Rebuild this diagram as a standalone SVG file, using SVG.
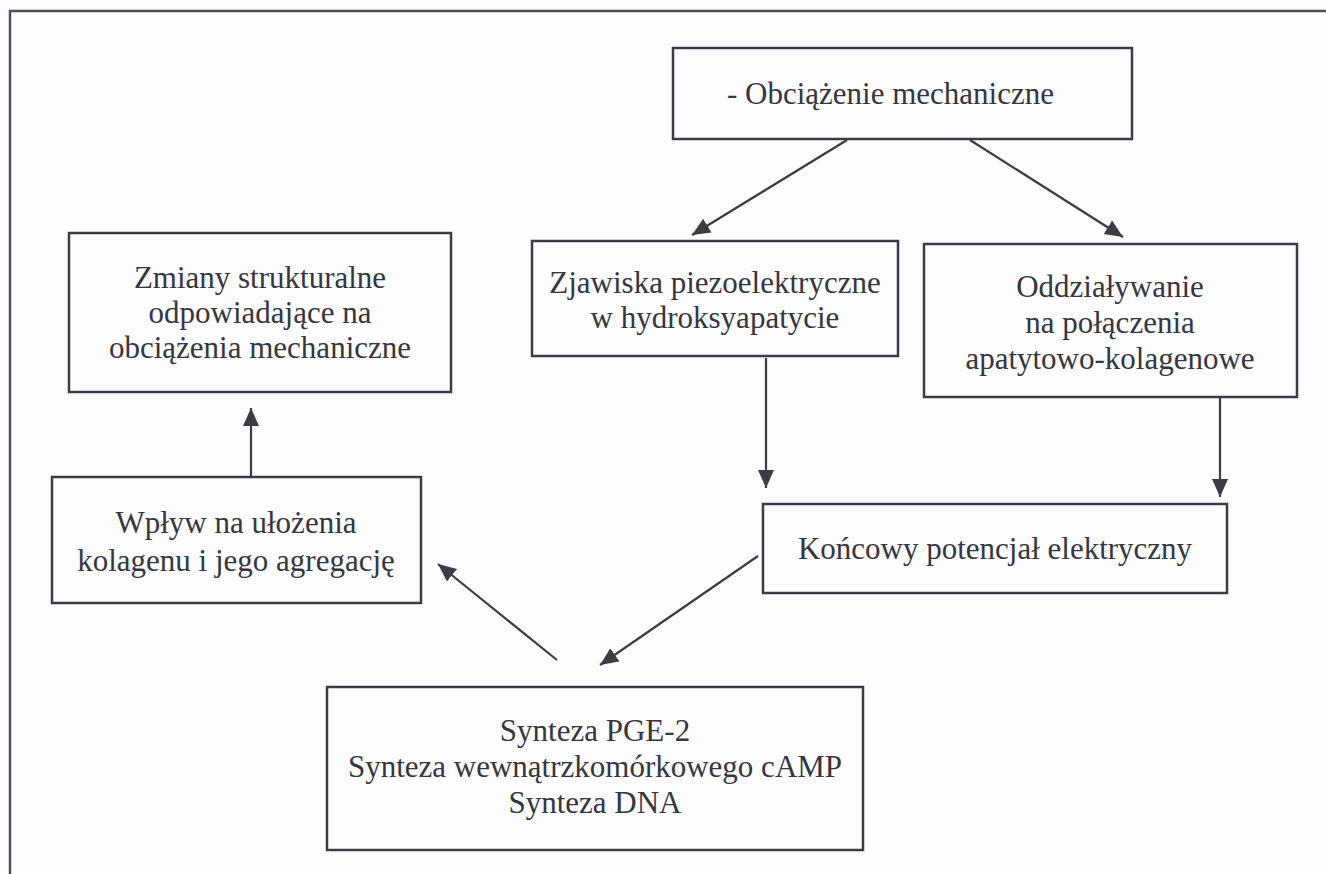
<svg xmlns="http://www.w3.org/2000/svg" width="1326" height="874" viewBox="0 0 1326 874">
<style>
.box{fill:none;stroke:#3c3c46;stroke-width:2.5}
.lbl{font-family:"Liberation Serif","Times New Roman",serif;font-size:31px;fill:#363640;text-anchor:middle}
.con{stroke:#3c3c46;stroke-width:2.2;fill:none;marker-end:url(#ah)}
.frame{stroke:#505060;stroke-width:2.5;fill:none}
</style>
<defs>
<marker id="ah" markerUnits="userSpaceOnUse" markerWidth="20" markerHeight="18" refX="18" refY="9" orient="auto">
<path d="M0,1 L18,9 L0,17 Z" fill="#3c3c46"/>
</marker>
</defs>
<rect width="1326" height="874" fill="#fdfdff"/>
<path class="frame" d="M10,874 V11 H1326"/>

<g id="n-obciazenie">
<rect class="box" x="673" y="48" width="459" height="91"/>
<text class="lbl" x="727" y="104" style="text-anchor:start">- Obciążenie mechaniczne</text>
</g>
<g id="n-zjawiska">
<rect class="box" x="532" y="241" width="366" height="115"/>
<text class="lbl" x="715" y="293">Zjawiska piezoelektryczne</text>
<text class="lbl" x="715" y="328">w hydroksyapatycie</text>
</g>
<g id="n-oddzialywanie">
<rect class="box" x="924" y="244" width="373" height="153"/>
<text class="lbl" x="1110" y="297">Oddziaływanie</text>
<text class="lbl" x="1110" y="333">na połączenia</text>
<text class="lbl" x="1110" y="369">apatytowo-kolagenowe</text>
</g>
<g id="n-zmiany">
<rect class="box" x="69" y="233" width="382" height="159"/>
<text class="lbl" x="260" y="288">Zmiany strukturalne</text>
<text class="lbl" x="260" y="323">odpowiadające na</text>
<text class="lbl" x="260" y="358">obciążenia mechaniczne</text>
</g>
<g id="n-wplyw">
<rect class="box" x="52" y="477" width="369" height="126"/>
<text class="lbl" x="236" y="533">Wpływ na ułożenia</text>
<text class="lbl" x="236" y="571">kolagenu i jego agregację</text>
</g>
<g id="n-koncowy">
<rect class="box" x="763" y="504" width="464" height="89"/>
<text class="lbl" x="995" y="559">Końcowy potencjał elektryczny</text>
</g>
<g id="n-synteza">
<rect class="box" x="327" y="687" width="536" height="163"/>
<text class="lbl" x="595" y="741">Synteza PGE-2</text>
<text class="lbl" x="595" y="777">Synteza wewnątrzkomórkowego cAMP</text>
<text class="lbl" x="595" y="813">Synteza DNA</text>
</g>

<g id="connectors">
<line class="con" x1="847" y1="140" x2="692" y2="235"/>
<line class="con" x1="970" y1="140" x2="1123" y2="237"/>
<line class="con" x1="766" y1="358" x2="766" y2="488"/>
<line class="con" x1="1220" y1="398" x2="1220" y2="497"/>
<line class="con" x1="758" y1="556" x2="600" y2="665"/>
<line class="con" x1="557" y1="660" x2="438" y2="564"/>
<line class="con" x1="251" y1="477" x2="251" y2="408"/>
</g>
</svg>
